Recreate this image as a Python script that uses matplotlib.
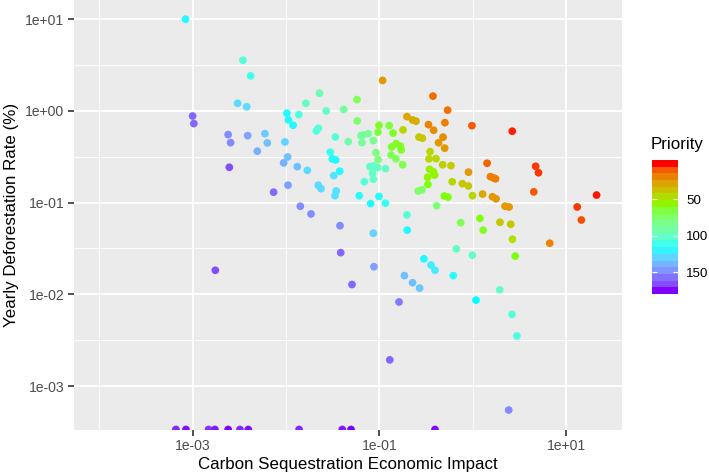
import numpy as np
import matplotlib
matplotlib.use("Agg")
import matplotlib.pyplot as plt
from matplotlib.colors import ListedColormap, Normalize

plt.rcParams["font.family"] = ["Liberation Sans", "DejaVu Sans"]

carbon_impact = [
    0.00084, 0.00346, 0.00418, 0.00303, 0.00379, 0.00100, 0.00103, 0.00240, 0.00255, 0.00388,
    0.00594, 0.00630, 0.00492, 0.00247, 0.00973, 0.0104, 0.00942, 0.0132, 0.0169, 0.00736,
    0.0105, 0.0142, 0.0185, 0.0102, 0.0106, 0.0119, 0.0137, 0.0163, 0.0228, 0.0211,
    0.0222, 0.0221, 0.0237, 0.00175, 0.108, 0.0269, 0.0414, 0.0574, 0.374, 0.537,
    0.0578, 0.0989, 0.127, 0.197, 0.226, 0.246, 0.335, 0.380, 0.502, 0.977,
    2.64, 0.0337, 0.0463, 0.0634, 0.0672, 0.0759, 0.0650, 0.0859, 0.0964, 0.140,
    0.179, 0.265, 0.288, 0.479, 0.429, 0.499, 0.135, 0.151, 0.168, 0.171,
    0.133, 0.150, 0.0918, 0.0970, 0.177, 0.348, 0.339, 0.403, 0.475, 0.583,
    0.0297, 0.0313, 0.0340, 0.0375, 0.0324, 0.0791, 0.0867, 0.0957, 0.116, 0.0845,
    0.0859, 0.0687, 0.344, 0.377, 0.390, 0.328, 0.330, 0.260, 0.285, 0.601,
    0.771, 0.893, 0.991, 1.27, 0.897, 1.42, 1.54, 1.68, 1.75, 1.62,
    1.77, 2.21, 2.44, 4.70, 5.04, 4.49, 6.65, 0.494, 0.541, 0.409,
    0.0608, 0.0989, 0.0805, 0.116, 0.0334, 0.0344, 0.0378, 0.0859, 0.0385, 0.197,
    0.198, 0.740, 1.19, 1.29, 1.95, 2.54, 2.65, 2.84, 0.664, 0.987,
    0.299, 0.0873, 0.0508, 0.162, 0.185, 0.226, 0.269, 0.356, 0.393, 0.617,
    1.08, 1.94, 2.62, 2.96, 0.129, 2.42, 21.1, 13.1, 14.5,
    0.000662, 0.000848, 0.00148, 0.00173, 0.00240, 0.00321, 0.00394, 0.0138, 0.0400, 0.0496,
    0.393,
]
deforestation_rate = [
    10.0, 3.57, 2.41, 1.21, 1.11, 0.88, 0.728, 0.552, 0.451, 0.538,
    0.565, 0.448, 0.364, 0.243, 0.459, 0.315, 0.271, 0.247, 0.225, 0.130,
    0.155, 0.0914, 0.0753, 0.944, 0.798, 0.698, 0.912, 1.21, 1.56, 0.605,
    0.648, 0.155, 0.142, 0.0183, 2.15, 1.00, 1.04, 1.33, 1.45, 1.02,
    0.778, 0.698, 0.692, 0.867, 0.798, 0.773, 0.709, 0.616, 0.745, 0.690,
    0.601, 0.520, 0.462, 0.538, 0.547, 0.565, 0.451, 0.474, 0.586, 0.573,
    0.621, 0.518, 0.504, 0.518, 0.450, 0.393, 0.405, 0.441, 0.413, 0.376,
    0.331, 0.301, 0.351, 0.294, 0.259, 0.360, 0.300, 0.302, 0.259, 0.253,
    0.355, 0.300, 0.292, 0.220, 0.197, 0.247, 0.251, 0.241, 0.235, 0.209,
    0.180, 0.169, 0.231, 0.218, 0.200, 0.189, 0.158, 0.134, 0.138, 0.169,
    0.161, 0.152, 0.119, 0.124, 0.215, 0.269, 0.192, 0.185, 0.182, 0.116,
    0.110, 0.0914, 0.0897, 0.249, 0.212, 0.131, 0.0361, 0.118, 0.115, 0.0925,
    0.119, 0.117, 0.0975, 0.0985, 0.119, 0.134, 0.0561, 0.0464, 0.0285, 0.0735,
    0.0501, 0.0605, 0.0673, 0.0501, 0.0611, 0.0581, 0.0399, 0.0261, 0.0313, 0.0267,
    0.0244, 0.0200, 0.0128, 0.00826, 0.0160, 0.0134, 0.0117, 0.0209, 0.0183, 0.0160,
    0.00865, 0.0112, 0.00604, 0.00352, 0.00193, 0.000548, 0.121, 0.0897, 0.0647,
    0, 0, 0, 0, 0, 0, 0, 0, 0, 0,
    0,
]
priority = [
    118, 105, 110, 128, 128, 160, 160, 150, 150, 143,
    132, 135, 140, 165, 130, 135, 140, 135, 128, 160,
    145, 150, 150, 118, 118, 118, 108, 100, 95, 106,
    106, 128, 128, 165, 25, 100, 90, 70, 14, 15,
    75, 62, 65, 30, 32, 32, 20, 22, 18, 10,
    3, 105, 92, 88, 88, 88, 88, 85, 65, 62,
    45, 40, 40, 22, 25, 25, 62, 62, 62, 62,
    70, 70, 80, 80, 68, 45, 45, 45, 42, 42,
    112, 118, 118, 118, 125, 100, 100, 100, 100, 102,
    102, 105, 55, 55, 55, 55, 60, 75, 75, 45,
    40, 40, 45, 30, 25, 12, 18, 18, 18, 25,
    25, 25, 25, 5, 5, 10, 20, 60, 60, 78,
    115, 115, 118, 112, 125, 125, 150, 130, 160, 105,
    118, 70, 60, 62, 40, 40, 48, 60, 100, 100,
    118, 145, 160, 155, 135, 135, 133, 122, 122, 115,
    117, 100, 105, 108, 160, 150, 2, 5, 8,
    172, 174, 170, 173, 175, 171, 174, 172, 173, 175,
    174,
]

x_ticks = [1e-3, 1e-1, 1e1]
x_tick_labels = ["1e-03", "1e-01", "1e+01"]
x_minor = [1e-4, 1e-2, 1e0]
y_ticks = [1e-3, 1e-2, 1e-1, 1e0, 1e1]
y_tick_labels = ["1e-03", "1e-02", "1e-01", "1e+00", "1e+01"]
y_minor = [10 ** -2.5, 10 ** -1.5, 10 ** -0.5, 10 ** 0.5]
legend_ticks = [50, 100, 150]
palette = ["#FF0000", "#80FF00", "#00FFFF", "#8000FF"]
prio_limits = (1, 175)


# gradient interpolated in Lab space, like ggplot's gradientn
def to_lab(rgb):
    c = np.where(rgb <= 0.04045, rgb / 12.92, ((rgb + 0.055) / 1.055) ** 2.4)
    m = np.array([[0.4124, 0.3576, 0.1805], [0.2126, 0.7152, 0.0722], [0.0193, 0.1192, 0.9505]])
    xyz = c @ m.T / np.array([0.95047, 1.0, 1.08883])
    f = np.where(xyz > 0.008856, np.cbrt(xyz), 7.787 * xyz + 16 / 116)
    return np.stack([116 * f[:, 1] - 16, 500 * (f[:, 0] - f[:, 1]), 200 * (f[:, 1] - f[:, 2])], axis=1), m


def from_lab(lab, m):
    fy = (lab[:, 0] + 16) / 116
    f = np.stack([fy + lab[:, 1] / 500, fy, fy - lab[:, 2] / 200], axis=1)
    xyz = np.where(f ** 3 > 0.008856, f ** 3, (f - 16 / 116) / 7.787) * np.array([0.95047, 1.0, 1.08883])
    lin = np.clip(xyz @ np.linalg.inv(m).T, 0, 1)
    return np.clip(np.where(lin <= 0.0031308, 12.92 * lin, 1.055 * lin ** (1 / 2.4) - 0.055), 0, 1)


pal_rgb = np.array([[int(h[i:i + 2], 16) / 255 for i in (1, 3, 5)] for h in palette])
pal_lab, M = to_lab(pal_rgb)
pos = np.linspace(0, 1, len(palette))
t = np.linspace(0, 1, 256)
lab_ramp = np.stack([np.interp(t, pos, pal_lab[:, k]) for k in range(3)], axis=1)
cmap = ListedColormap(from_lab(lab_ramp, M))
norm = Normalize(*prio_limits)

fig = plt.figure(figsize=(7.09, 4.75), dpi=100)
ax = fig.add_axes([74 / 709, 45.5 / 475, 547.7 / 709, 429.5 / 475])
ax.set_facecolor("#EBEBEB")
ax.set_xscale("log")
ax.set_yscale("log")
ylo = 3.36e-4
ax.set_xlim(5.37e-5, 39.2)
ax.set_ylim(ylo, 16.2)

ax.set_xticks(x_ticks, x_tick_labels)
ax.set_yticks(y_ticks, y_tick_labels)
ax.set_xticks(x_minor, minor=True)
ax.set_yticks(y_minor, minor=True)
ax.tick_params(which="minor", length=0, labelbottom=False, labelleft=False)
ax.tick_params(which="major", length=4.5, width=1.2, color="#333333",
               labelcolor="#4D4D4D", labelsize=10.1, pad=2.5)
ax.grid(which="major", color="white", linewidth=1.3)
ax.grid(which="minor", color="white", linewidth=0.65)
ax.set_axisbelow(True)
for s in ax.spines.values():
    s.set_visible(False)

x = np.array(carbon_impact)
y = np.array(deforestation_rate, dtype=float)
y_plot = np.where(y > 0, y, ylo)  # zeros sit on the panel edge
ax.scatter(x, y_plot, c=priority, cmap=cmap, norm=norm, s=31, linewidths=0, zorder=3)

ax.set_xlabel("Carbon Sequestration Economic Impact", fontsize=12.2, labelpad=2.5)
ax.set_ylabel("Yearly Deforestation Rate (%)", fontsize=12.2, labelpad=4.5)

# colourbar legend (20 bins, reversed like the reference)
lo, hi = prio_limits
nbin = 20
d = (hi - lo) / (nbin - 1)
centers = np.linspace(lo, hi, nbin)
edges = np.linspace(lo - d / 2, hi + d / 2, nbin + 1)
cax = fig.add_axes([651.7 / 709, (475 - 294) / 475, 26.6 / 709, 134 / 475])
cax.pcolormesh([0, 1], edges, centers[:, None], cmap=cmap, norm=norm)
cax.set_ylim(hi + d / 2, lo - d / 2)
cax.set_xlim(0, 1)
cax.hlines(legend_ticks, 0, 0.2, color="white", lw=0.8)
cax.hlines(legend_ticks, 0.8, 1, color="white", lw=0.8)
cax.set_xticks([])
cax.yaxis.tick_right()
cax.set_yticks(legend_ticks, [str(v) for v in legend_ticks])
cax.tick_params(axis="y", length=0, pad=5.5, labelsize=9.6)
for s in cax.spines.values():
    s.set_visible(False)
fig.text(651 / 709, 1 - 144 / 475, "Priority", fontsize=12.2, va="center", ha="left")

fig.savefig("out.png", dpi=100)
